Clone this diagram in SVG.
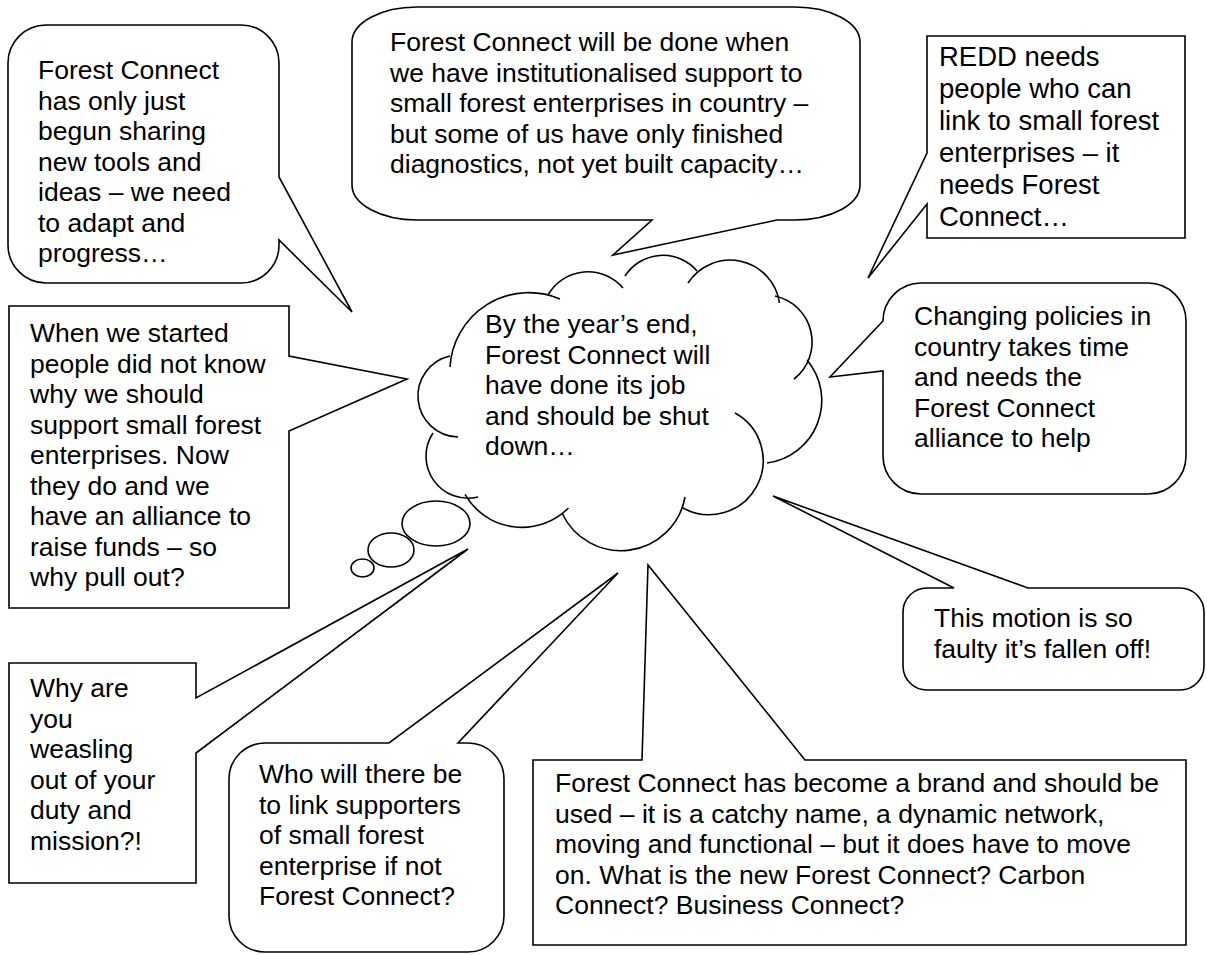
<svg xmlns="http://www.w3.org/2000/svg" width="1207" height="955" viewBox="0 0 1207 955">
<style>
.s{fill:#fff;stroke:#000;stroke-width:1.6;stroke-linejoin:miter}
.a{fill:none;stroke:#000;stroke-width:1.6}
.t{font-family:"Liberation Sans",Arial,sans-serif;font-size:26.5px;fill:#000}
.r{font-family:"Liberation Sans",Arial,sans-serif;font-size:27.5px;fill:#000}
</style>
<rect width="1207" height="955" fill="#fff"/>

<g id="bubble-top-left">
<path class="s" d="M46,25 H241 A38,38 0 0 1 279,63 V177 L352,312 L279,240 V245 A38,38 0 0 1 241,283 H46 A38,38 0 0 1 8,245 V63 A38,38 0 0 1 46,25 Z"/>
<text class="t"><tspan x="38" y="79">Forest Connect</tspan><tspan x="38" y="109.5">has only just</tspan><tspan x="38" y="140">begun sharing</tspan><tspan x="38" y="170.5">new tools and</tspan><tspan x="38" y="201">ideas – we need</tspan><tspan x="38" y="231.5">to adapt and</tspan><tspan x="38" y="262">progress…</tspan></text>
</g>

<g id="bubble-top-center">
<path class="s" d="M417,7 H795 A65,35 0 0 1 860,42 V185 A65,35 0 0 1 795,220 H777 L613,255 L652,220 H417 A65,35 0 0 1 352,185 V42 A65,35 0 0 1 417,7 Z"/>
<text class="t"><tspan x="390" y="51">Forest Connect will be done when</tspan><tspan x="390" y="81.5">we have institutionalised support to</tspan><tspan x="390" y="112">small forest enterprises in country –</tspan><tspan x="390" y="142.5">but some of us have only finished</tspan><tspan x="390" y="173">diagnostics, not yet built capacity…</tspan></text>
</g>

<g id="box-redd">
<path class="s" d="M927,36 H1185 V238 H927 V204 L868,278 L927,153 Z"/>
<text class="r"><tspan x="939" y="66">REDD needs</tspan><tspan x="939" y="98">people who can</tspan><tspan x="939" y="130">link to small forest</tspan><tspan x="939" y="162">enterprises – it</tspan><tspan x="939" y="194">needs Forest</tspan><tspan x="939" y="226">Connect…</tspan></text>
</g>

<g id="box-when">
<path class="s" d="M9,306 H289 V356 L407,379 L289,431 V608 H9 Z"/>
<text class="t"><tspan x="30" y="342">When we started</tspan><tspan x="30" y="372.5">people did not know</tspan><tspan x="30" y="403">why we should</tspan><tspan x="30" y="433.5">support small forest</tspan><tspan x="30" y="464">enterprises. Now</tspan><tspan x="30" y="494.5">they do and we</tspan><tspan x="30" y="525">have an alliance to</tspan><tspan x="30" y="555.5">raise funds – so</tspan><tspan x="30" y="586">why pull out?</tspan></text>
</g>

<g id="cloud-center">
<path class="a" d="M450,356 A41,41 0 0 0 458,437"/>
<path class="a" d="M450,367 A79,79 0 0 1 560,299"/>
<path class="a" d="M548,295 A46,46 0 0 1 623,288"/>
<path class="a" d="M625,276 A45,45 0 0 1 697,271"/>
<path class="a" d="M688,283 A50,50 0 0 1 779.5,303"/>
<path class="a" d="M775,296 A47,47 0 0 1 794,379"/>
<path class="a" d="M807,360 A63,63 0 0 1 767,463"/>
<path class="a" d="M735,413 A54,54 0 1 1 683,508"/>
<path class="a" d="M685,497 A65,65 0 0 1 562,513"/>
<path class="a" d="M568.5,508 A65.7,65.7 0 0 1 465,494.4"/>
<path class="a" d="M433,433 A42,42 0 0 0 478,497"/>
<text class="t"><tspan x="485" y="333">By the year’s end,</tspan><tspan x="485" y="363.5">Forest Connect will</tspan><tspan x="485" y="394">have done its job</tspan><tspan x="485" y="424.5">and should be shut</tspan><tspan x="485" y="455">down…</tspan></text>
</g>

<g id="connectors">
<ellipse class="s" cx="436" cy="523.5" rx="34" ry="22.5"/>
<ellipse class="s" cx="391" cy="550" rx="23" ry="17"/>
<ellipse class="s" cx="362.5" cy="568" rx="11.5" ry="9"/>
</g>

<g id="bubble-changing">
<path class="s" d="M921,283 H1148 A38,38 0 0 1 1186,321 V456 A38,38 0 0 1 1148,494 H921 A38,38 0 0 1 883,456 V371 L830,377 L883,321 A38,38 0 0 1 921,283 Z"/>
<text class="t"><tspan x="914" y="325">Changing policies in</tspan><tspan x="914" y="355.5">country takes time</tspan><tspan x="914" y="386">and needs the</tspan><tspan x="914" y="416.5">Forest Connect</tspan><tspan x="914" y="447">alliance to help</tspan></text>
</g>

<g id="bubble-motion">
<path class="s" d="M927,588 H954 L773,496 L1028,588 H1180 A24,24 0 0 1 1204,612 V666 A24,24 0 0 1 1180,690 H927 A24,24 0 0 1 903,666 V612 A24,24 0 0 1 927,588 Z"/>
<text class="t"><tspan x="934" y="627">This motion is so</tspan><tspan x="934" y="657.5">faulty it’s fallen off!</tspan></text>
</g>

<g id="box-weasel">
<path class="s" d="M9,663 H196 V698 L468,549 L196,753 V883 H9 Z"/>
<text class="t"><tspan x="30" y="697">Why are</tspan><tspan x="30" y="727.5">you</tspan><tspan x="30" y="758">weasling</tspan><tspan x="30" y="788.5">out of your</tspan><tspan x="30" y="819">duty and</tspan><tspan x="30" y="849.5">mission?!</tspan></text>
</g>

<g id="bubble-who">
<path class="s" d="M265,743 H389 L618,573 L458,743 H468 A36,36 0 0 1 504,779 V916 A36,36 0 0 1 468,952 H265 A36,36 0 0 1 229,916 V779 A36,36 0 0 1 265,743 Z"/>
<text class="t"><tspan x="259" y="783">Who will there be</tspan><tspan x="259" y="813.5">to link supporters</tspan><tspan x="259" y="844">of small forest</tspan><tspan x="259" y="874.5">enterprise if not</tspan><tspan x="259" y="905">Forest Connect?</tspan></text>
</g>

<g id="box-brand">
<path class="s" d="M533,760 H642 L648,565 L805,760 H1186 V945 H533 Z"/>
<text class="t"><tspan x="555" y="792">Forest Connect has become a brand and should be</tspan><tspan x="555" y="822.5">used – it is a catchy name, a dynamic network,</tspan><tspan x="555" y="853">moving and functional – but it does have to move</tspan><tspan x="555" y="883.5">on. What is the new Forest Connect? Carbon</tspan><tspan x="555" y="914">Connect? Business Connect?</tspan></text>
</g>
</svg>
